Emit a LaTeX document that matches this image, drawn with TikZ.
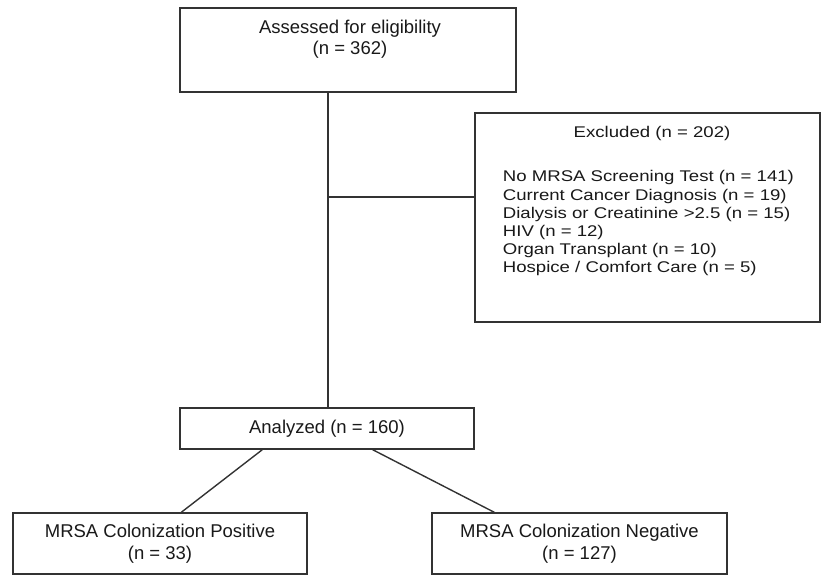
\documentclass[tikz,border=0pt]{standalone}
\usepackage{fontspec}
\setmainfont{Liberation Sans}
\newfontfamily\exfont{Liberation Sans}[FakeStretch=1.2]
\begin{document}
\begin{tikzpicture}[x=1pt,y=-1pt,
  box/.style={draw=black!80, line width=1.4pt, fill=white, inner sep=0pt},
  txt/.style={font=\fontsize{18.5}{21.5}\selectfont, text=black!90, align=center, inner sep=0pt},
  extxt/.style={font=\exfont\fontsize{15.5}{18.2}\selectfont, text=black!90, inner sep=0pt},
  link/.style={draw=black!80, line width=1.4pt}]
\useasboundingbox (0,0) rectangle (822,576);
% boxes
\node[box, minimum width=336pt, minimum height=84pt] (top) at (348,50) {};
\node[txt, anchor=north] (toptxt) at (350,19.8) {Assessed for eligibility\\(n = 362)};
\node[box, minimum width=345pt, minimum height=209pt] (ex) at (647.5,217.5) {};
\node[extxt, anchor=base] (extitle) at (652,137.3) {Excluded (n = 202)};
\node[extxt, anchor=north west, align=left] (exlist) at (502.7,170.4)
  {No MRSA Screening Test (n = 141)\\
   Current Cancer Diagnosis (n = 19)\\
   Dialysis or Creatinine >2.5 (n = 15)\\
   HIV (n = 12)\\
   Organ Transplant (n = 10)\\
   Hospice / Comfort Care (n = 5)};
\node[box, txt, draw=black!80, minimum width=294pt, minimum height=41pt] (an) at (327,428.5) {Analyzed (n = 160)};
\node[box, txt, draw=black!80, minimum width=294pt, minimum height=61pt] (pos) at (160,543.5) {MRSA Colonization Positive\\(n = 33)};
\node[box, txt, draw=black!80, minimum width=295pt, minimum height=61pt] (neg) at (579.5,543.5) {MRSA Colonization Negative\\(n = 127)};
% connectors
\coordinate (br) at (328,197);
\draw[link] ([xshift=1pt]an.north) -- ([xshift=1pt]an.north |- top.south);
\draw[link] (br) -- (br -| ex.west);
\draw[link] ([xshift=83pt]an.south west) -- ([xshift=169pt]pos.north west);
\draw[link] ([xshift=-102pt]an.south east) -- ([xshift=63pt]neg.north west);
\end{tikzpicture}
\end{document}
